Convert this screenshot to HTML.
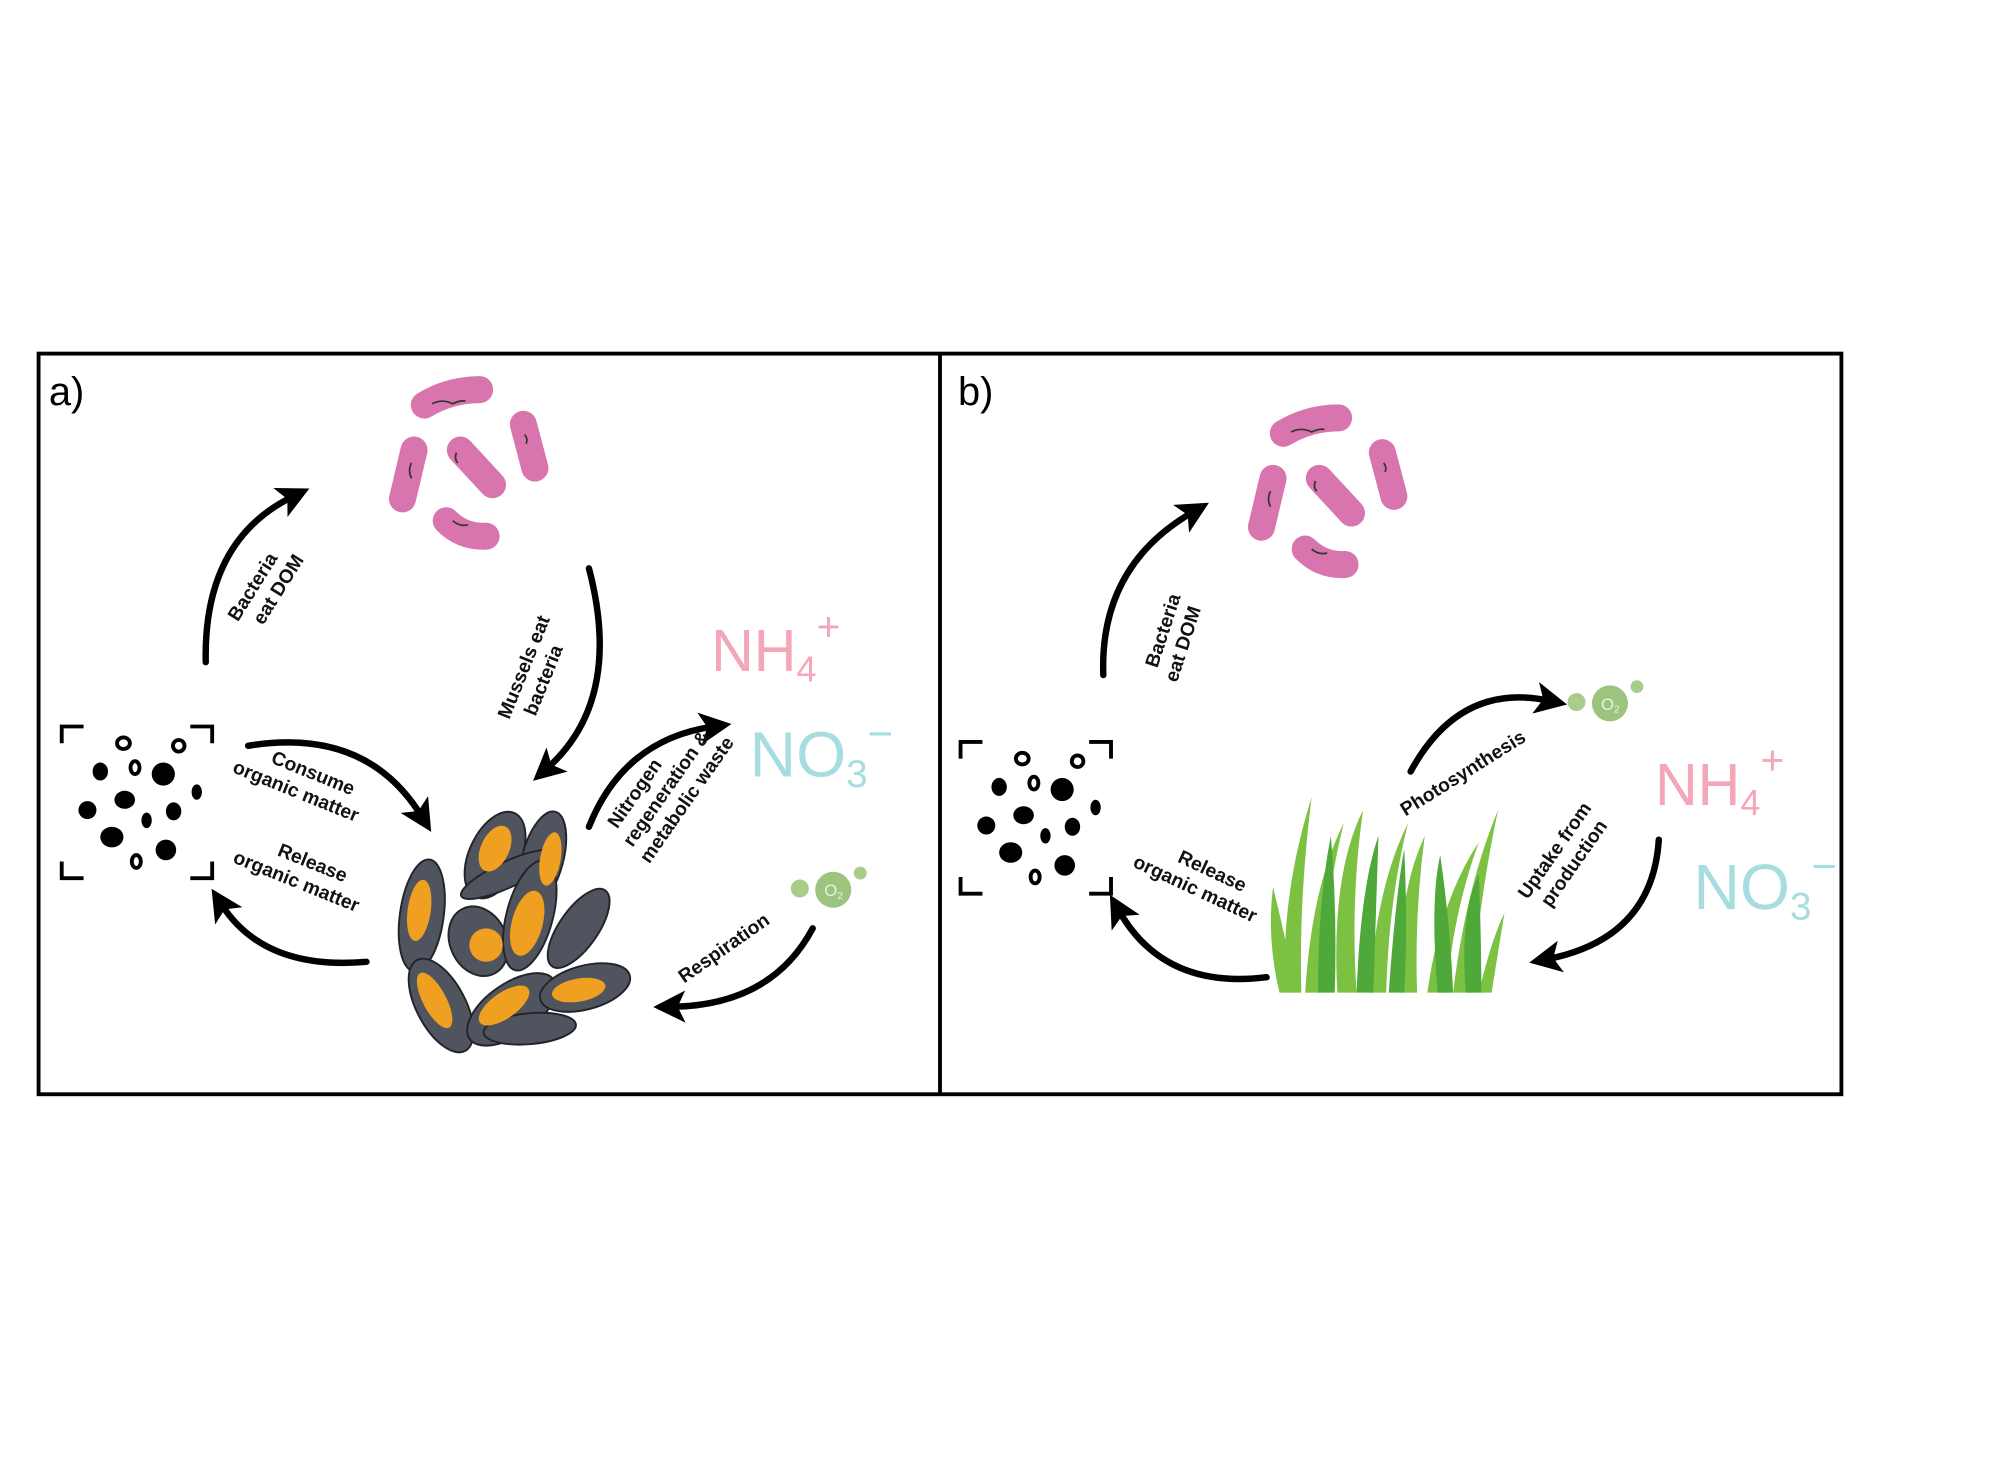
<!DOCTYPE html>
<html><head><meta charset="utf-8"><style>
html,body{margin:0;padding:0;background:#fff;}
svg{display:block}
text{font-family:"Liberation Sans",sans-serif;}
.lbl{font-weight:bold;font-size:15px;fill:#111;}
.arr{fill:none;stroke:#000;stroke-width:5;stroke-linecap:round;}
</style></head><body>
<svg width="2015" height="1462" viewBox="0 0 1567 1137" preserveAspectRatio="none">
<defs>
<marker id="ah" markerWidth="5" markerHeight="5" refX="2.2" refY="2.5" orient="auto" markerUnits="strokeWidth">
<path d="M0,0 L5,2.5 L0,5 L1.2,2.5 Z" fill="#000"/></marker>
<g id="bact">
<g stroke="#d874ae" stroke-width="21" stroke-linecap="round" fill="none">
<path d="M330,315 Q350,303 373,303"/>
<line x1="322" y1="350" x2="313" y2="388"/>
<line x1="358" y1="350" x2="383" y2="377"/>
<line x1="407" y1="330" x2="416" y2="364"/>
<path d="M347,405 Q360,418 378,417"/>
</g>
<g stroke="#333" stroke-width="1.3" fill="none">
<path d="M336,314 q8,-4 16,0 q6,-3 10,-2"/><path d="M320,360 q-3,6 0,12"/><path d="M355,352 q-2,5 1,8"/><path d="M408,338 q3,4 1,7"/><path d="M352,405 q6,5 12,3"/>
</g></g>
<g id="parts">
<g stroke="#000" stroke-width="3" fill="none">
<path d="M48,578 V565 H65"/><path d="M148,565 H165 V578"/><path d="M48,670 V683 H65"/><path d="M148,683 H165 V670"/>
<ellipse cx="96" cy="578" rx="5" ry="4.5"/><ellipse cx="139" cy="580" rx="4.5" ry="4.5"/><ellipse cx="105" cy="597" rx="3.5" ry="5"/><ellipse cx="106" cy="670" rx="3.5" ry="5"/>
</g>
<g fill="#000">
<ellipse cx="78" cy="600" rx="6" ry="7"/><ellipse cx="127" cy="602" rx="9" ry="9"/><ellipse cx="153" cy="616" rx="4" ry="6"/>
<ellipse cx="68" cy="630" rx="7" ry="7"/><ellipse cx="97" cy="622" rx="8" ry="7"/><ellipse cx="135" cy="631" rx="6" ry="7"/><ellipse cx="114" cy="638" rx="4" ry="6"/>
<ellipse cx="87" cy="651" rx="9" ry="8"/><ellipse cx="129" cy="661" rx="8" ry="8"/>
</g></g>
<g id="o2">
<circle cx="0" cy="0" r="14" fill="#9dc47e"/><circle cx="-26" cy="-1" r="7" fill="#a8cc8a"/><circle cx="21" cy="-13" r="5" fill="#a8cc8a"/>
<text x="-7" y="5" font-size="13" fill="#e8f3df">O<tspan font-size="8" dy="2">2</tspan></text>
</g>
</defs>

<rect x="30" y="275" width="1402" height="576" fill="none" stroke="#000" stroke-width="3"/>
<line x1="731" y1="275" x2="731" y2="851" stroke="#000" stroke-width="3"/>

<g>
<text x="38" y="315" font-size="31">a)</text>
<use href="#bact"/>
<use href="#parts"/>
<path class="arr" d="M160,515 Q158,420 228,386" marker-end="url(#ah)"/>
<path class="arr" d="M458,442 Q485,545 425,598" marker-end="url(#ah)"/>
<path class="arr" d="M193,580 Q285,565 328,635" marker-end="url(#ah)"/>
<path class="arr" d="M285,748 Q205,755 172,703" marker-end="url(#ah)"/>
<path class="arr" d="M458,643 Q485,575 555,565" marker-end="url(#ah)"/>
<path class="arr" d="M632,722 Q600,782 522,783" marker-end="url(#ah)"/>
<text class="lbl" transform="translate(185,484) rotate(-58)"><tspan x="0" y="0">Bacteria</tspan><tspan x="8" y="18">eat DOM</tspan></text>
<text class="lbl" transform="translate(396,560) rotate(-68)"><tspan x="0" y="0">Mussels eat</tspan><tspan x="10" y="18">bacteria</tspan></text>
<text class="lbl" transform="translate(210,593) rotate(22)"><tspan x="0" y="0">Consume</tspan><tspan x="-25" y="18">organic matter</tspan></text>
<text class="lbl" transform="translate(215,665) rotate(22)"><tspan x="0" y="0">Release</tspan><tspan x="-30" y="18">organic matter</tspan></text>
<text class="lbl" transform="translate(480,645) rotate(-55)"><tspan x="0" y="0">Nitrogen</tspan><tspan x="-5" y="18">regeneration &amp;</tspan><tspan x="-8" y="36">metabolic waste</tspan></text>
<text class="lbl" transform="translate(532,765) rotate(-35)">Respiration</text>
<text x="553" y="522" font-size="46" fill="#f4a7b9">NH<tspan font-size="28" dy="8">4</tspan><tspan font-size="32" dy="-32">+</tspan></text>
<text x="583" y="604" font-size="50" fill="#a8dde0">NO<tspan font-size="30" dy="8">3</tspan><tspan font-size="34" dy="-30">−</tspan></text>
<use href="#o2" transform="translate(648,692)"/>
<g>
<g fill="#50545f" stroke="#23242a" stroke-width="1.5">
<ellipse cx="385" cy="665" rx="20" ry="36" transform="rotate(25 385 665)"/>
<ellipse cx="422" cy="668" rx="16" ry="38" transform="rotate(15 422 668)"/>
<ellipse cx="395" cy="680" rx="40" ry="10" transform="rotate(-25 395 680)"/>
<ellipse cx="328" cy="712" rx="17" ry="44" transform="rotate(8 328 712)"/>
<ellipse cx="372" cy="732" rx="22" ry="28" transform="rotate(-25 372 732)"/>
<ellipse cx="412" cy="712" rx="18" ry="44" transform="rotate(15 412 712)"/>
<ellipse cx="450" cy="722" rx="15" ry="36" transform="rotate(35 450 722)"/>
<ellipse cx="343" cy="782" rx="19" ry="40" transform="rotate(-28 343 782)"/>
<ellipse cx="398" cy="785" rx="20" ry="40" transform="rotate(55 398 785)"/>
<ellipse cx="455" cy="768" rx="17" ry="36" transform="rotate(75 455 768)"/>
<ellipse cx="412" cy="800" rx="36" ry="12" transform="rotate(-5 412 800)"/>
</g>
<g fill="#f0a020">
<ellipse cx="385" cy="660" rx="11" ry="19" transform="rotate(25 385 660)"/>
<ellipse cx="428" cy="668" rx="8" ry="21" transform="rotate(10 428 668)"/>
<ellipse cx="326" cy="708" rx="9" ry="24" transform="rotate(8 326 708)"/>
<ellipse cx="378" cy="735" rx="13" ry="13"/>
<ellipse cx="410" cy="718" rx="12" ry="26" transform="rotate(15 410 718)"/>
<ellipse cx="338" cy="778" rx="9" ry="24" transform="rotate(-28 338 778)"/>
<ellipse cx="392" cy="782" rx="10" ry="23" transform="rotate(55 392 782)"/>
<ellipse cx="450" cy="770" rx="9" ry="21" transform="rotate(80 450 770)"/>
</g></g>
</g>

<g>
<text x="745" y="315" font-size="31">b)</text>
<use href="#bact" transform="translate(668,22)"/>
<use href="#parts" transform="translate(699,12)"/>
<path class="arr" d="M858,525 Q855,440 928,398" marker-end="url(#ah)"/>
<path class="arr" d="M1097,600 Q1135,530 1205,545" marker-end="url(#ah)"/>
<path class="arr" d="M1290,653 Q1285,730 1203,746" marker-end="url(#ah)"/>
<path class="arr" d="M985,760 Q905,770 870,708" marker-end="url(#ah)"/>
<text class="lbl" transform="translate(900,520) rotate(-72)"><tspan x="0" y="0">Bacteria</tspan><tspan x="-6" y="18">eat DOM</tspan></text>
<text class="lbl" transform="translate(1093,635) rotate(-32)">Photosynthesis</text>
<text class="lbl" transform="translate(1188,700) rotate(-55)"><tspan x="0" y="0">Uptake from</tspan><tspan x="5" y="18">production</tspan></text>
<text class="lbl" transform="translate(915,670) rotate(25)"><tspan x="0" y="0">Release</tspan><tspan x="-30" y="18">organic matter</tspan></text>
<text x="1287" y="626" font-size="46" fill="#f4a7b9">NH<tspan font-size="28" dy="8">4</tspan><tspan font-size="32" dy="-32">+</tspan></text>
<text x="1317" y="707" font-size="50" fill="#a8dde0">NO<tspan font-size="30" dy="8">3</tspan><tspan font-size="34" dy="-30">−</tspan></text>
<use href="#o2" transform="translate(1252,547)"/>
<g>
<g fill="#7cc142">
<path d="M1000,772 Q995,700 1020,620 Q1010,700 1012,772Z"/>
<path d="M1015,772 Q1020,690 1045,640 Q1030,700 1028,772Z"/>
<path d="M1040,772 Q1035,680 1060,630 Q1050,700 1055,772Z"/>
<path d="M1065,772 Q1070,690 1095,640 Q1080,700 1078,772Z"/>
<path d="M1090,772 Q1085,700 1108,650 Q1100,710 1102,772Z"/>
<path d="M1110,772 Q1120,700 1150,655 Q1130,710 1125,772Z"/>
<path d="M1130,772 Q1140,690 1165,630 Q1150,700 1145,772Z"/>
<path d="M995,772 Q985,730 990,690 Q1000,730 1008,772Z"/>
<path d="M1150,772 Q1160,730 1170,710 Q1165,740 1160,772Z"/>
</g>
<g fill="#4ea83a">
<path d="M1025,772 Q1025,700 1035,650 Q1040,710 1038,772Z"/>
<path d="M1055,772 Q1058,690 1072,650 Q1070,710 1068,772Z"/>
<path d="M1080,772 Q1085,700 1092,660 Q1095,720 1092,772Z"/>
<path d="M1118,772 Q1112,700 1120,665 Q1128,720 1130,772Z"/>
<path d="M1140,772 Q1135,710 1150,680 Q1152,730 1152,772Z"/>
</g></g>
</g>
</svg>
</body></html>
